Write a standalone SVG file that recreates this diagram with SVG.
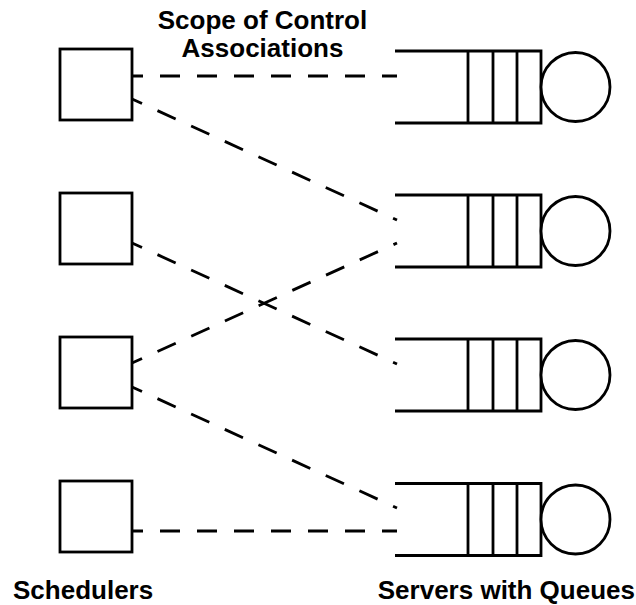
<svg xmlns="http://www.w3.org/2000/svg" width="636" height="605" viewBox="0 0 636 605">
<style>
.box{fill:#fff;stroke:#000;stroke-width:2.8}
.q{fill:none;stroke:#000;stroke-width:2.8}
.srv{fill:#fff;stroke:#000;stroke-width:2.8}
.link{fill:none;stroke:#000;stroke-width:2.8;stroke-dasharray:20 17;stroke-dashoffset:9}
.lbl{font-family:"Liberation Sans",Arial,sans-serif;font-weight:bold;font-size:26px;fill:#000}
</style>
<rect width="636" height="605" fill="#fff"/>
<g id="connectors">
<line class="link" x1="132" y1="76" x2="397" y2="76"/>
<line class="link" x1="132" y1="99" x2="397" y2="220"/>
<line class="link" x1="132" y1="243" x2="397" y2="364"/>
<line class="link" x1="132" y1="363" x2="397" y2="243"/>
<line class="link" x1="132" y1="387" x2="397" y2="508"/>
<line class="link" x1="132" y1="531" x2="397" y2="531"/>
</g>
<g id="scheduler1"><rect class="box" x="60" y="49" width="72" height="71"/></g>
<g id="scheduler2"><rect class="box" x="60" y="193" width="72" height="71"/></g>
<g id="scheduler3"><rect class="box" x="60" y="337" width="72" height="71"/></g>
<g id="scheduler4"><rect class="box" x="60" y="481" width="72" height="71"/></g>
<g id="server1">
<path class="q" d="M395 51H541V123H395M468 51V123M493 51V123M517 51V123"/>
<circle class="srv" cx="575.5" cy="87" r="34.5"/>
</g>
<g id="server2">
<path class="q" d="M395 195H541V267H395M468 195V267M493 195V267M517 195V267"/>
<circle class="srv" cx="575.5" cy="231" r="34.5"/>
</g>
<g id="server3">
<path class="q" d="M395 339H541V411H395M468 339V411M493 339V411M517 339V411"/>
<circle class="srv" cx="575.5" cy="375" r="34.5"/>
</g>
<g id="server4">
<path class="q" d="M395 483.5H541V555.5H395M468 483.5V555.5M493 483.5V555.5M517 483.5V555.5"/>
<circle class="srv" cx="575.5" cy="519.5" r="34.5"/>
</g>
<g id="labels">
<text class="lbl" x="262.5" y="29" text-anchor="middle">Scope of Control</text>
<text class="lbl" x="262.5" y="57" text-anchor="middle">Associations</text>
<text class="lbl" x="13" y="599">Schedulers</text>
<text class="lbl" x="635" y="599" text-anchor="end">Servers with Queues</text>
</g>
</svg>
